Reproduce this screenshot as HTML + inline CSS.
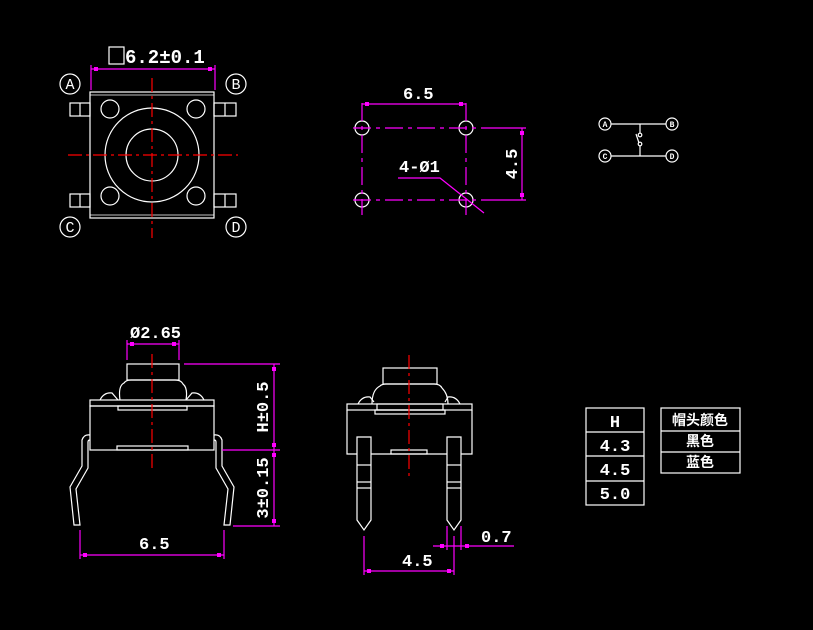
<!DOCTYPE html>
<html><head><meta charset="utf-8"><style>
html,body{margin:0;padding:0;background:#000;}
svg{display:block;}
text{font-family:"Liberation Mono","Noto Sans CJK SC",monospace;fill:#fff;}
</style></head><body>
<svg width="813" height="630" viewBox="0 0 813 630" xmlns="http://www.w3.org/2000/svg">
<rect width="813" height="630" fill="#000"/>
<g fill="none" stroke="#fff" stroke-width="1.2">
<rect x="90" y="92" width="124" height="126"/>
<line x1="90" y1="95" x2="214" y2="95" stroke-width="0.8"/>
<line x1="90" y1="215" x2="214" y2="215" stroke-width="0.8"/>
<circle cx="152" cy="155" r="47"/>
<circle cx="152" cy="155" r="26"/>
<circle cx="110" cy="109" r="9"/><circle cx="196" cy="109" r="9"/>
<circle cx="110" cy="196" r="9"/><circle cx="196" cy="196" r="9"/>
<rect x="70" y="103" width="20" height="13"/><line x1="80" y1="103" x2="80" y2="116"/>
<rect x="70" y="194" width="20" height="13"/><line x1="80" y1="194" x2="80" y2="207"/>
<rect x="214" y="103" width="22" height="13"/><line x1="225" y1="103" x2="225" y2="116"/>
<rect x="214" y="194" width="22" height="13"/><line x1="225" y1="194" x2="225" y2="207"/>
<circle cx="70" cy="84" r="10"/><circle cx="236" cy="84" r="10"/>
<circle cx="70" cy="227" r="10"/><circle cx="236" cy="227" r="10"/>
<rect x="109" y="47" width="15" height="17"/>
<circle cx="362" cy="128" r="7"/><circle cx="466" cy="128" r="7"/>
<circle cx="362" cy="200" r="7"/><circle cx="466" cy="200" r="7"/>
<circle cx="605" cy="124" r="6"/><circle cx="672" cy="124" r="6"/>
<circle cx="605" cy="156" r="6"/><circle cx="672" cy="156" r="6"/>
<line x1="611" y1="124" x2="666" y2="124"/><line x1="611" y1="156" x2="666" y2="156"/>
<line x1="640" y1="124" x2="640" y2="133"/><line x1="640" y1="146" x2="640" y2="156"/>
<circle cx="640" cy="135" r="1.8"/><circle cx="640" cy="144" r="1.8"/><line x1="639" y1="143" x2="636" y2="134"/>
<rect x="127" y="364" width="52" height="16"/>
<path d="M120 400 Q118 386 124 383 Q126 380 131 380 L175 380 Q181 380 183 384 Q188 388 186 400"/>
<path d="M100 400 Q104 392 112 393 L118 400 M204 400 Q200 392 192 393 L186 400"/>
<rect x="90" y="400" width="124" height="6"/>
<rect x="90" y="406" width="124" height="44"/>
<rect x="118" y="406" width="69" height="4"/>
<rect x="117" y="446" width="71" height="4"/>
<path d="M90 435 Q84 434 82 440 L82 466 L70 487 L74 525 L80 525 L76 489 L88 468 L88 442 Q88 440 90 440"/>
<path d="M214 435 Q220 434 222 440 L222 466 L234 487 L230 525 L224 525 L228 489 L216 468 L216 442 Q216 440 214 440"/>
<rect x="383" y="368" width="54" height="16"/>
<path d="M372 404 Q372 390 380 386 Q382 384 386 384 L434 384 Q440 384 442 388 Q448 394 448 404"/>
<path d="M358 404 Q362 396 370 397 L374 402 M460 404 Q456 396 448 397 L445 402"/>
<rect x="347" y="404" width="125" height="6"/>
<rect x="377" y="404" width="66" height="6"/>
<rect x="375" y="410" width="70" height="4"/>
<path d="M347 410 L347 454 L357 454 M371 454 L447 454 M461 454 L472 454 L472 410"/>
<rect x="391" y="450" width="36" height="4"/>
<path d="M357 437 L371 437 L371 520 L364 530 L357 520 Z"/>
<line x1="357" y1="465" x2="371" y2="465"/><line x1="357" y1="482" x2="371" y2="482"/><line x1="357" y1="488" x2="371" y2="488"/>
<path d="M447 437 L461 437 L461 520 L454 530 L447 520 Z"/>
<line x1="447" y1="465" x2="461" y2="465"/><line x1="447" y1="482" x2="461" y2="482"/><line x1="447" y1="488" x2="461" y2="488"/>
<rect x="586" y="408" width="58" height="97"/>
<line x1="586" y1="432" x2="644" y2="432"/><line x1="586" y1="456" x2="644" y2="456"/><line x1="586" y1="481" x2="644" y2="481"/>
<rect x="661" y="408" width="79" height="65"/>
<line x1="661" y1="431" x2="740" y2="431"/><line x1="661" y1="452" x2="740" y2="452"/>
</g>
<g stroke="#f00" stroke-width="1.2" stroke-dasharray="14,4,3,4" fill="none">
<line x1="152" y1="78" x2="152" y2="238"/>
<line x1="68" y1="155" x2="238" y2="155"/>
<line x1="152" y1="354" x2="152" y2="472"/>
<line x1="409" y1="355" x2="409" y2="477"/>
</g>
<g stroke="#f0f" stroke-width="1.2" fill="none">
<line x1="91" y1="65" x2="91" y2="90"/><line x1="215" y1="65" x2="215" y2="90"/>
<line x1="91" y1="69" x2="215" y2="69"/>
<g stroke-dasharray="18,5,4,5">
<line x1="353" y1="128" x2="485" y2="128"/><line x1="353" y1="200" x2="485" y2="200"/>
<line x1="362" y1="103" x2="362" y2="215"/><line x1="466" y1="103" x2="466" y2="215"/>
</g>
<line x1="485" y1="128" x2="526" y2="128"/><line x1="485" y1="200" x2="526" y2="200"/>
<line x1="362" y1="104" x2="466" y2="104"/>
<line x1="522" y1="128" x2="522" y2="200"/>
<path d="M398 178 L440 178 L484 213"/>
<line x1="127" y1="340" x2="127" y2="360"/><line x1="179" y1="340" x2="179" y2="360"/>
<line x1="127" y1="344" x2="179" y2="344"/>
<line x1="184" y1="364" x2="280" y2="364"/><line x1="222" y1="450" x2="280" y2="450"/><line x1="233" y1="526" x2="280" y2="526"/>
<line x1="274" y1="364" x2="274" y2="526"/>
<line x1="80" y1="530" x2="80" y2="559"/><line x1="224" y1="530" x2="224" y2="559"/>
<line x1="80" y1="555" x2="224" y2="555"/>
<line x1="364" y1="536" x2="364" y2="575"/><line x1="454" y1="536" x2="454" y2="575"/>
<line x1="364" y1="571" x2="454" y2="571"/>
<line x1="447" y1="526" x2="447" y2="550"/><line x1="461" y1="526" x2="461" y2="550"/>
<line x1="433" y1="546" x2="514" y2="546"/>
</g>
<g fill="#f0f">
<rect x="94" y="67" width="4" height="4"/><rect x="208" y="67" width="4" height="4"/>
<rect x="365" y="102" width="4" height="4"/><rect x="459" y="102" width="4" height="4"/>
<rect x="520" y="131" width="4" height="4"/><rect x="520" y="193" width="4" height="4"/>
<rect x="130" y="342" width="4" height="4"/><rect x="172" y="342" width="4" height="4"/>
<rect x="272" y="367" width="4" height="4"/><rect x="272" y="443" width="4" height="4"/>
<rect x="272" y="453" width="4" height="4"/><rect x="272" y="519" width="4" height="4"/>
<rect x="83" y="553" width="4" height="4"/><rect x="217" y="553" width="4" height="4"/>
<rect x="367" y="569" width="4" height="4"/><rect x="447" y="569" width="4" height="4"/>
<rect x="440" y="544" width="4" height="4"/><rect x="465" y="544" width="4" height="4"/>
</g>
<g font-size="17" font-weight="bold">
<text x="125" y="63" font-size="19">6.2±0.1</text>
<text x="403" y="99">6.5</text>
<text x="399" y="172">4-Ø1</text>
<text transform="translate(517,164) rotate(-90)" text-anchor="middle">4.5</text>
<text x="130" y="338">Ø2.65</text>
<text transform="translate(268,407) rotate(-90)" text-anchor="middle">H±0.5</text>
<text transform="translate(268,488) rotate(-90)" text-anchor="middle">3±0.15</text>
<text x="139" y="549">6.5</text>
<text x="402" y="566">4.5</text>
<text x="481" y="542">0.7</text>
</g>
<g font-size="15" font-family="Liberation Serif,serif" text-anchor="middle">
<text x="70" y="89">A</text><text x="236" y="89">B</text>
<text x="70" y="232">C</text><text x="236" y="232">D</text>
</g>
<g font-size="8" font-family="Liberation Sans,sans-serif" font-weight="bold" text-anchor="middle">
<text x="605" y="127">A</text><text x="672" y="127">B</text>
<text x="605" y="159">C</text><text x="672" y="159">D</text>
</g>
<g font-size="17" text-anchor="middle" font-family="Liberation Serif,serif" font-weight="bold">
<text x="615" y="427">H</text><text x="615" y="451">4.3</text>
<text x="615" y="475">4.5</text><text x="615" y="499">5.0</text>
</g>
<g font-size="14" text-anchor="middle" font-family="Noto Sans CJK SC,sans-serif" font-weight="bold">
<text x="700" y="425">帽头颜色</text><text x="700" y="446">黑色</text><text x="700" y="467">蓝色</text>
</g>
</svg>
</body></html>
